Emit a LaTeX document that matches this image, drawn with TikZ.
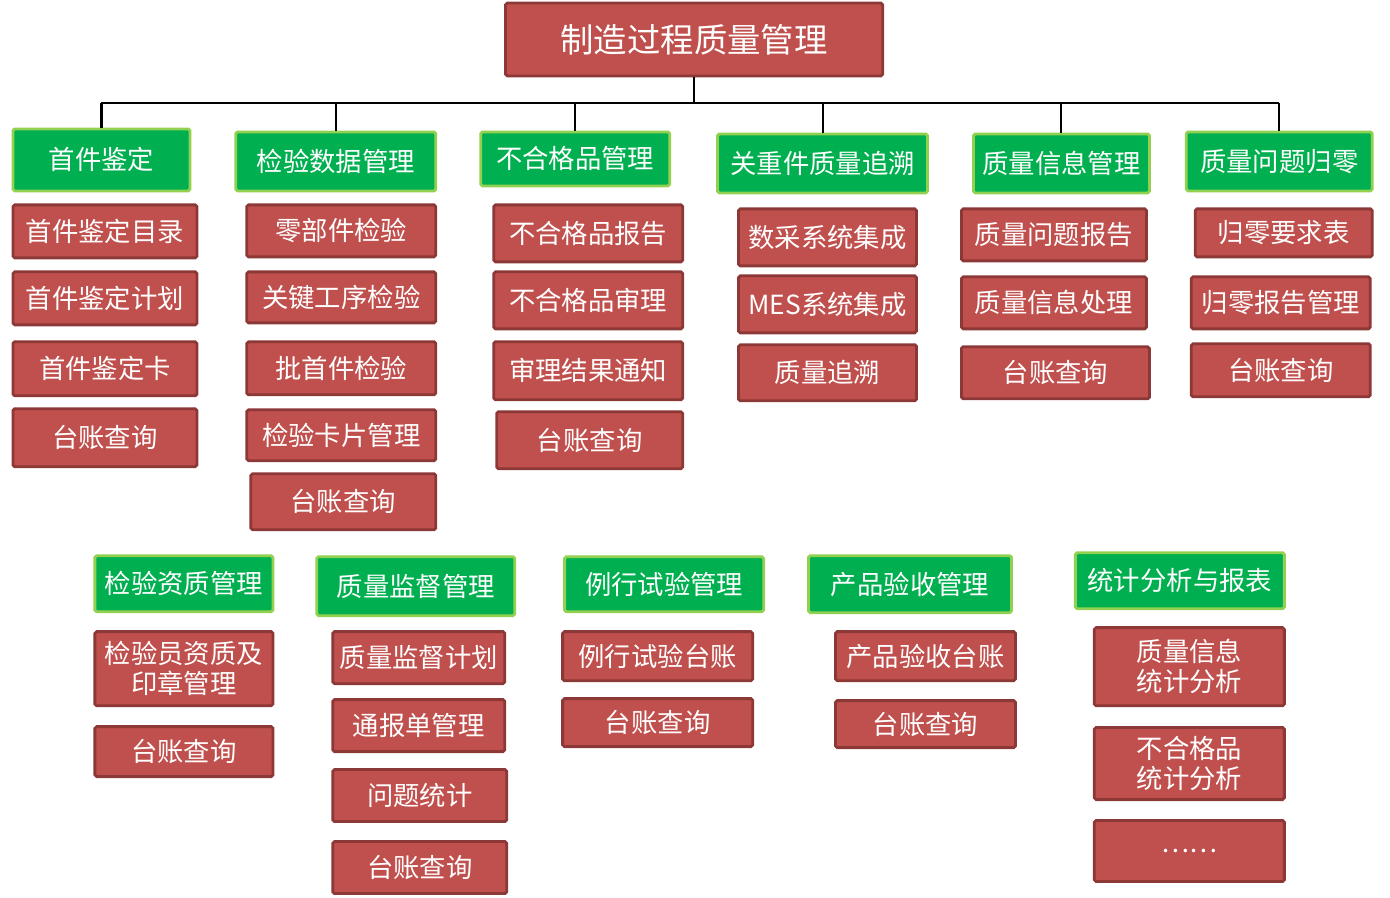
\documentclass[tikz,border=0pt]{standalone}
\usepackage{fontspec}
\setmainfont{Noto Sans CJK SC}
\definecolor{boxred}{HTML}{C0504D}
\definecolor{boxredline}{HTML}{8C3836}
\definecolor{boxgreen}{HTML}{00B050}
\definecolor{boxgreenline}{HTML}{92D050}
\tikzset{
  redbox/.style={fill=boxred, draw=boxredline, line width=1.6pt, rounded corners=1pt, text=white, font=\fontsize{15}{17}\selectfont, align=center, inner sep=0pt},
  greenbox/.style={fill=boxgreen, draw=boxgreenline, line width=1.6pt, rounded corners=1pt, text=white, font=\fontsize{15}{17}\selectfont, align=center, inner sep=0pt},
  topbox/.style={redbox, font=\fontsize{19}{21}\selectfont},
}
% box from pixel corners: name, x1, y1, x2, y2, style, text
\newcommand\bx[7]{\node[#6, minimum width={(#4-#2)*0.02cm}, minimum height={(#5-#3)*0.02cm}] (#1) at ({(#2+#4)*0.01},{-(#3+#5)*0.01}) {#7};}

\begin{document}
\begin{tikzpicture}
    \useasboundingbox (0,0) rectangle (27.8,-17.94);

    % Top
    \bx{top}{506}{3}{883}{76}{topbox}{制造过程质量管理}

    % Column 1
    \bx{hA}{13}{129}{190}{191}{greenbox}{首件鉴定}
    \bx{a1}{13}{205}{197}{258}{redbox}{首件鉴定目录}
    \bx{a2}{13}{272}{197}{325}{redbox}{首件鉴定计划}
    \bx{a3}{13}{342}{197}{396}{redbox}{首件鉴定卡}
    \bx{a4}{13}{409}{197}{467}{redbox}{台账查询}

    % Column 2
    \bx{hB}{236}{132}{436}{191}{greenbox}{检验数据管理}
    \bx{b1}{247}{205}{436}{257}{redbox}{零部件检验}
    \bx{b2}{247}{272}{436}{323}{redbox}{关键工序检验}
    \bx{b3}{247}{342}{436}{395}{redbox}{批首件检验}
    \bx{b4}{247}{410}{436}{461}{redbox}{检验卡片管理}
    \bx{b5}{251}{474}{436}{530}{redbox}{台账查询}

    % Column 3
    \bx{hC}{481}{132}{670}{186}{greenbox}{不合格品管理}
    \bx{c1}{494}{205}{683}{262}{redbox}{不合格品报告}
    \bx{c2}{494}{272}{683}{329}{redbox}{不合格品审理}
    \bx{c3}{494}{342}{683}{400}{redbox}{审理结果通知}
    \bx{c4}{497}{412}{683}{469}{redbox}{台账查询}

    % Column 4
    \bx{hD}{718}{134}{928}{193}{greenbox}{关重件质量追溯}
    \bx{d1}{739}{209}{917}{266}{redbox}{数采系统集成}
    \bx{d2}{739}{276}{917}{333}{redbox}{MES系统集成}
    \bx{d3}{739}{345}{917}{401}{redbox}{质量追溯}

    % Column 5
    \bx{hE}{974}{134}{1150}{193}{greenbox}{质量信息管理}
    \bx{e1}{962}{209}{1147}{261}{redbox}{质量问题报告}
    \bx{e2}{962}{277}{1147}{329}{redbox}{质量信息处理}
    \bx{e3}{962}{347}{1150}{399}{redbox}{台账查询}

    % Column 6
    \bx{hF}{1187}{132}{1373}{191}{greenbox}{质量问题归零}
    \bx{f1}{1196}{209}{1373}{257}{redbox}{归零要求表}
    \bx{f2}{1192}{277}{1371}{329}{redbox}{归零报告管理}
    \bx{f3}{1192}{344}{1371}{397}{redbox}{台账查询}

    % Bottom row
    \bx{hG}{95}{556}{273}{612}{greenbox}{检验资质管理}
    \bx{g1}{95}{632}{273}{706}{redbox}{检验员资质及\\印章管理}
    \bx{g2}{95}{727}{273}{777}{redbox}{台账查询}

    \bx{hH}{317}{557}{515}{616}{greenbox}{质量监督管理}
    \bx{h1}{333}{632}{505}{684}{redbox}{质量监督计划}
    \bx{h2}{333}{700}{505}{752}{redbox}{通报单管理}
    \bx{h3}{333}{770}{507}{822}{redbox}{问题统计}
    \bx{h4}{333}{842}{507}{894}{redbox}{台账查询}

    \bx{hI}{565}{557}{764}{612}{greenbox}{例行试验管理}
    \bx{i1}{563}{632}{753}{681}{redbox}{例行试验台账}
    \bx{i2}{563}{699}{753}{747}{redbox}{台账查询}

    \bx{hJ}{809}{556}{1012}{613}{greenbox}{产品验收管理}
    \bx{j1}{836}{632}{1016}{681}{redbox}{产品验收台账}
    \bx{j2}{836}{701}{1016}{748}{redbox}{台账查询}

    \bx{hK}{1076}{553}{1285}{609}{greenbox}{统计分析与报表}
    \bx{k1}{1095}{628}{1285}{706}{redbox}{质量信息\\统计分析}
    \bx{k2}{1095}{728}{1285}{800}{redbox}{不合格品\\统计分析}
    \bx{k3}{1095}{821}{1285}{882}{redbox}{……}

    % Connectors
    \coordinate (bus) at (13.9,-2.06);
    \draw[line width=1.2pt] (top.south) -- (top.south|-bus);
    \draw[line width=1.2pt] (hA.north|-bus) -- (hF.north|-bus);
    \foreach \h in {hA,hB,hC,hD,hE,hF}
        \draw[line width=1.2pt] (\h.north|-bus) -- (\h.north);

\end{tikzpicture}
\end{document}
